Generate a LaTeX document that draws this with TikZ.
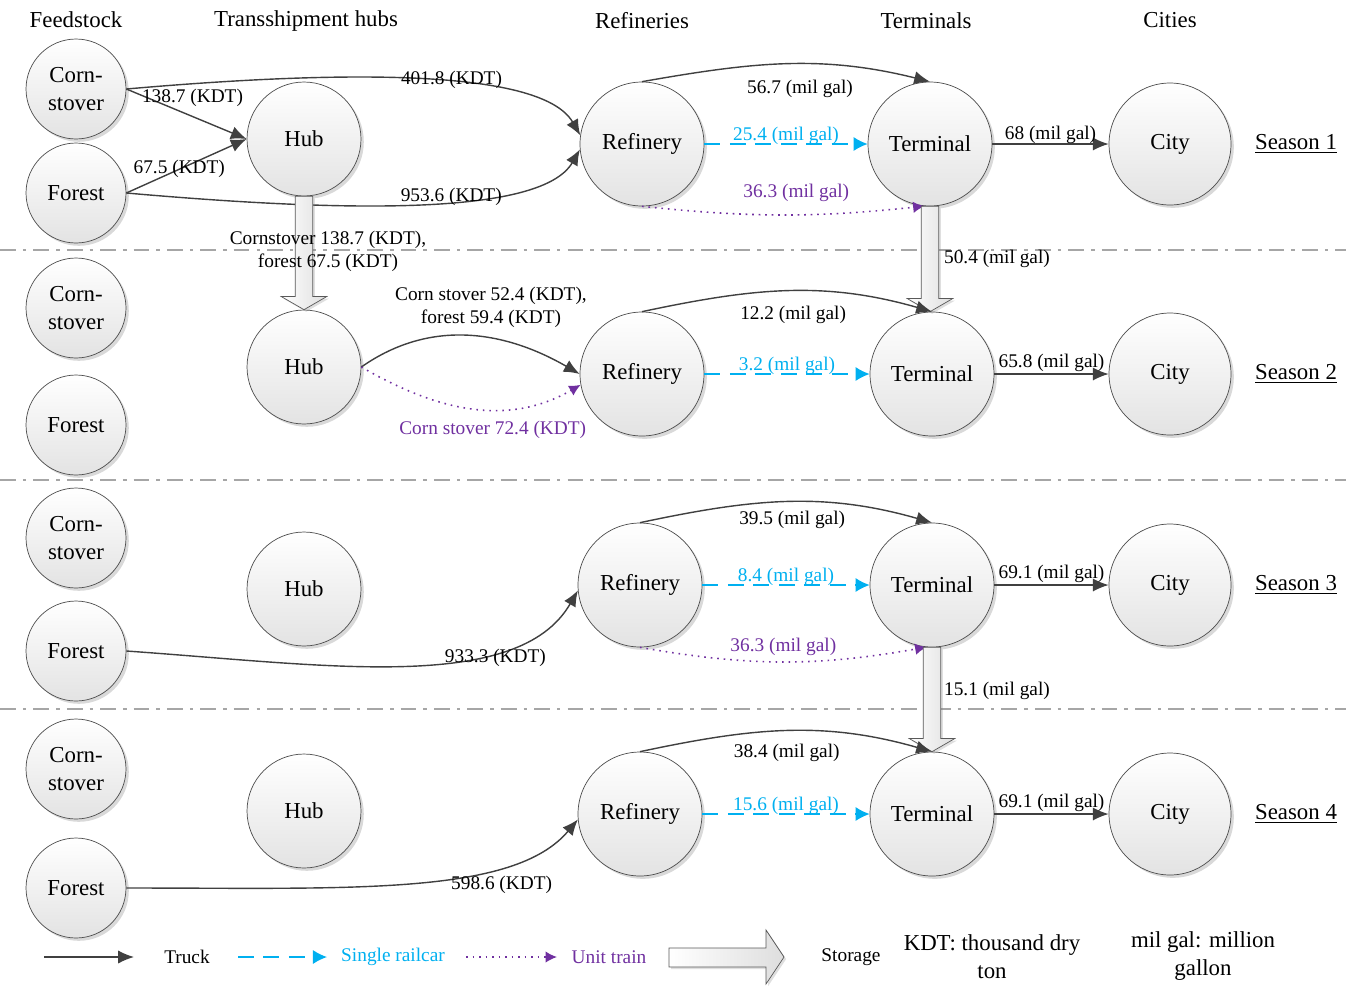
\documentclass[tikz,border=0pt]{standalone}
\usepackage{fontspec}
\setmainfont{Liberation Serif}
\usepackage{xcolor}
\usepackage{pgf,tikz}
\usetikzlibrary{arrows.meta}
\usetikzlibrary{shadows}
\usetikzlibrary{calc}
\definecolor{railcol}{RGB}{0,176,240}
\definecolor{traincol}{RGB}{112,48,160}
\tikzset{
  font={\fontsize{13pt}{16pt}\selectfont}}

\begin{document}
\begin{tikzpicture}[x=0.02cm, y=0.02cm]

    \tikzset{site/.style = {circle, draw=black!70, thin, top color=white, bottom color=black!11,
        drop shadow={shadow xshift=1.6pt, shadow yshift=-1.6pt, opacity=0.3},
        minimum size=#1, inner sep=0pt, align=center}}
    \tikzset{edge/.style = {->, > = {Latex[length=9pt,width=7.5pt]}, draw=black!75, line width=0.8pt}}
    \tikzset{rail/.style = {edge, draw=railcol, dash pattern=on 9pt off 5.5pt, > = {Latex[length=8pt,width=8pt]}}}
    \tikzset{train/.style = {edge, draw=traincol, line width=0.9pt, dash pattern=on 0.9pt off 2.8pt, > = {Latex[length=6.5pt,width=6.5pt]}}}
    \tikzset{lbl/.style = {font={\fontsize{11pt}{13pt}\selectfont}, inner sep=1pt, align=center}}
    \tikzset{storage/.style = {draw=black!65, thin, left color=white, right color=black!13,
        drop shadow={shadow xshift=1.2pt, shadow yshift=-1.2pt, opacity=0.25}}}
    \tikzset{sep/.style = {draw=black!35, line width=0.9pt, dash pattern=on 9pt off 4pt on 2pt off 4pt}}

    \useasboundingbox (0,0) rectangle (1346,-985);

    % headers
    \node (feedhead) at (76,-20) {Feedstock};
    \node (hubhead) at (306,-21) {Transshipment hubs};
    \node (refhead) at (642,-21) {Refineries};
    \node (termhead) at (926,-21) {Terminals};
    \node (cityhead) at (1170,-20) {Cities};

    % season borders
    \draw[sep] (0,-250) -- (1346,-250);
    \draw[sep] (0,-480) -- (1346,-480);
    \draw[sep] (0,-709) -- (1346,-709);

    % vertices, season 1
    \node[site=2cm] (csA) at (76,-89) {Corn-\\stover};
    \node[site=2cm] (fsA) at (76,-193) {Forest};
    \node[site=2.28cm] (hubA) at (304,-139) {Hub};
    \node[site=2.48cm] (refA) at (642,-144) {Refinery};
    \node[site=2.48cm] (termA) at (930,-144) {Terminal};
    \node[site=2.44cm] (cityA) at (1170,-144) {City};
    \node (seasonA) at (1296,-144) {\underline{Season 1}};

    % vertices, season 2
    \node[site=2cm] (csB) at (76,-308) {Corn-\\stover};
    \node[site=2cm] (fsB) at (76,-425) {Forest};
    \node[site=2.28cm] (hubB) at (304,-367) {Hub};
    \node[site=2.48cm] (refB) at (642,-374) {Refinery};
    \node[site=2.48cm] (termB) at (932,-374) {Terminal};
    \node[site=2.44cm] (cityB) at (1170,-374) {City};
    \node (seasonB) at (1296,-374) {\underline{Season 2}};

    % vertices, season 3
    \node[site=2cm] (csC) at (76,-538) {Corn-\\stover};
    \node[site=2cm] (fsC) at (76,-651) {Forest};
    \node[site=2.28cm] (hubC) at (304,-589) {Hub};
    \node[site=2.48cm] (refC) at (640,-585) {Refinery};
    \node[site=2.48cm] (termC) at (932,-585) {Terminal};
    \node[site=2.44cm] (cityC) at (1170,-585) {City};
    \node (seasonC) at (1296,-585) {\underline{Season 3}};

    % vertices, season 4
    \node[site=2cm] (csD) at (76,-769) {Corn-\\stover};
    \node[site=2cm] (fsD) at (76,-888) {Forest};
    \node[site=2.28cm] (hubD) at (304,-811) {Hub};
    \node[site=2.48cm] (refD) at (640,-814) {Refinery};
    \node[site=2.48cm] (termD) at (932,-814) {Terminal};
    \node[site=2.44cm] (cityD) at (1170,-814) {City};
    \node (seasonD) at (1296,-814) {\underline{Season 4}};

    % edges, season 1
    \draw[edge] (csA.east) to node[lbl, pos=0.55, above=4pt] {138.7 (KDT)} (hubA.west);
    \draw[edge] (fsA.east) to node[lbl, pos=0.44] {67.5 (KDT)} (hubA.west);
    \draw[edge] (csA.east) to[out=5, in=120, out distance=4cm, in distance=1.6cm]
        node[lbl, pos=0.58, yshift=2pt] {401.8 (KDT)} (refA.172);
    \draw[edge] (fsA.east) to[out=-5, in=-120, out distance=4cm, in distance=1.6cm]
        node[lbl, pos=0.58, yshift=2pt] {953.6 (KDT)} (refA.185);
    \draw[edge] (refA.north) to[out=10, in=166] node[lbl, pos=0.55, below=8pt] {56.7 (mil gal)} (termA.north);
    \draw[rail] (refA.east) to node[lbl, text=railcol, above=-1.5pt] {25.4 (mil gal)} (termA.west);
    \draw[train] (refA.south) to[bend right=6] node[lbl, text=traincol, pos=0.55, above=6pt] {36.3 (mil gal)} (termA.265);
    \draw[edge] (termA.east) to node[lbl, above=-1pt] {68 (mil gal)} (cityA.west);

    % storage, season 1 to season 2
    \draw[storage] let \p1 = (hubA.south), \p2 = (hubB.north) in
        (\x1-5pt,\y1) -- (\x1-5pt,\y2+7.5pt) -- (\x1-13pt,\y2+7.5pt) -- (\x1,\y2)
        -- (\x1+13pt,\y2+7.5pt) -- (\x1+5pt,\y2+7.5pt) -- (\x1+5pt,\y1) -- cycle;
    \node[lbl] (stockkeep) at (328,-251) {Cornstover 138.7 (KDT),\\ forest 67.5 (KDT)};
    \draw[storage] let \p1 = (termA.south), \p2 = (termB.north) in
        (\x1-5pt,\y1) -- (\x1-5pt,\y2+7.5pt) -- (\x1-13pt,\y2+7.5pt) -- (\x1,\y2)
        -- (\x1+13pt,\y2+7.5pt) -- (\x1+5pt,\y2+7.5pt) -- (\x1+5pt,\y1) -- cycle;
    \node[lbl, anchor=west] (fuelkeepA) at (942,-259) {50.4 (mil gal)};

    % edges, season 2
    \draw[edge] (hubB.east) to[out=35, in=150] node[lbl, pos=0.6, above=5pt] {Corn stover 52.4 (KDT),\\ forest 59.4 (KDT)} (refB.west);
    \draw[train] (hubB.east) to[out=-30, in=-150] node[lbl, text=traincol, pos=0.6, below=5pt] {Corn stover 72.4 (KDT)} (refB.190);
    \draw[edge] (refB.north) to[out=12, in=164] node[lbl, pos=0.52, below=7pt] {12.2 (mil gal)} (termB.north);
    \draw[rail] (refB.east) to node[lbl, text=railcol, above=-1.5pt] {3.2 (mil gal)} (termB.west);
    \draw[edge] (termB.east) to node[lbl, above=0pt] {65.8 (mil gal)} (cityB.west);

    % edges, season 3
    \draw[edge] (fsC.east) to[out=-4, in=-120, out distance=4cm, in distance=2.4cm]
        node[lbl, pos=0.71, yshift=-4pt] {933.3 (KDT)} (refC.185);
    \draw[edge] (refC.north) to[out=12, in=164] node[lbl, pos=0.52, below=4pt] {39.5 (mil gal)} (termC.north);
    \draw[rail] (refC.east) to node[lbl, text=railcol, above=-1.5pt] {8.4 (mil gal)} (termC.west);
    \draw[train] (refC.south) to[bend right=10] node[lbl, text=traincol, pos=0.5, above=2pt] {36.3 (mil gal)} (termC.265);
    \draw[edge] (termC.east) to node[lbl, above=0pt] {69.1 (mil gal)} (cityC.west);

    % storage, season 3 to season 4
    \draw[storage] let \p1 = (termC.south), \p2 = (termD.north) in
        (\x1-5pt,\y1) -- (\x1-5pt,\y2+7.5pt) -- (\x1-13pt,\y2+7.5pt) -- (\x1,\y2)
        -- (\x1+13pt,\y2+7.5pt) -- (\x1+5pt,\y2+7.5pt) -- (\x1+5pt,\y1) -- cycle;
    \node[lbl, anchor=west] (fuelkeepC) at (942,-691) {15.1 (mil gal)};

    % edges, season 4
    \draw[edge] (fsD.east) to[out=0, in=-130, out distance=4.5cm, in distance=2cm]
        node[lbl, pos=0.72, below=4.5pt] {598.6 (KDT)} (refD.185);
    \draw[edge] (refD.north) to[out=12, in=164] node[lbl, pos=0.5, below=6pt] {38.4 (mil gal)} (termD.north);
    \draw[rail] (refD.east) to node[lbl, text=railcol, above=-1.5pt] {15.6 (mil gal)} (termD.west);
    \draw[edge] (termD.east) to node[lbl, above=0pt] {69.1 (mil gal)} (cityD.west);

    % legend
    \coordinate (truckL) at (44,-957);
    \coordinate (truckR) at (134,-957);
    \draw[edge] (truckL) -- (truckR);
    \node[lbl] (truckkey) at (187,-957) {Truck};
    \coordinate (railL) at (238,-957);
    \coordinate (railR) at (327,-957);
    \draw[rail] (railL) -- (railR);
    \node[lbl, text=railcol] (railkey) at (393,-957) {Single railcar};
    \coordinate (trainL) at (466,-957);
    \coordinate (trainR) at (557,-957);
    \draw[train] (trainL) -- (trainR);
    \node[lbl, text=traincol] (trainkey) at (609,-957) {Unit train};
    \draw[storage] (669,-948) -- (766,-948) -- (766,-930) -- (784,-957) -- (766,-984) -- (766,-967) -- (669,-967) -- cycle;
    \node[lbl] (storekey) at (851,-957) {Storage};
    \node[align=center] (kdtkey) at (992,-957) {KDT: thousand dry\\ton};
    \node[align=center] (galkey) at (1203,-956) {mil gal: million\\gallon};

\end{tikzpicture}
\end{document}
